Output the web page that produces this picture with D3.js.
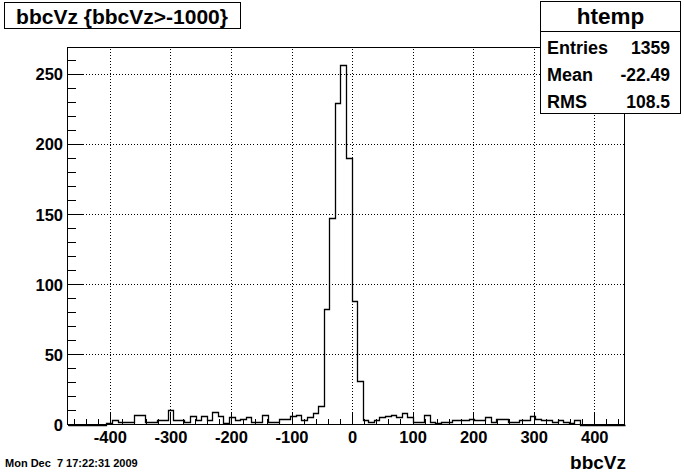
<!DOCTYPE html>
<html><head><meta charset="utf-8">
<script src="https://cdn.jsdelivr.net/npm/d3@7"></script>
<style>
body{margin:0;background:#fff}
text{font-family:"Liberation Sans",Arial,Helvetica,sans-serif;font-weight:bold;fill:#000}
</style>
</head><body>
<svg id="c" width="684" height="472"></svg>
<script>
// ---- data ----
const xMin = -470, xMax = 450, nBins = 100;
const counts = [
  0,0,0,0,0,0,0,1,3,2,
  2,2,7,7,2,2,3,3,10,3,
  3,2,6,3,6,3,9,6,1,5,
  3,4,5,2,2,7,2,2,4,4,
  6,7,3,5,8,13,82,147,229,256,
  190,88,31,3,2,3,5,6,7,5,
  8,5,2,2,7,2,1,2,2,3,
  3,3,4,3,3,5,2,4,4,2,
  2,3,3,6,4,3,3,2,3,2,
  1,3,0,0,0,0,0,0,0,0
];
const xMajorTicks = [-400,-300,-200,-100,0,100,200,300,400];
const xMinorTicks = d3.range(-460, 441, 20);
const yMajorTicks = [0,50,100,150,200,250];
const yMinorTicks = d3.range(0, 261, 10);
const titleText = "bbcVz {bbcVz>-1000}";
const statsName = "htemp";
const statsLabels = ["Entries","Mean","RMS"];
const statsValues = ["1359","-22.49","108.5"];
const xAxisTitle = "bbcVz";
const dateText = "Mon Dec  7 17:22:31 2009";

// ---- layout ----
const fL = 67.5, fR = 624.5, fT = 47.5, fB = 424.5;
const binW = (xMax - xMin) / nBins;
const yTop = d3.max(counts) * 1.05;

const svg = d3.select("#c");
const x = d3.scaleLinear().domain([xMin, xMax]).range([fL, fR]);
const y = d3.scaleLinear().domain([0, yTop]).range([fB, fT]);

svg.append("rect").attr("width",684).attr("height",472).attr("fill","#fff");

// grid
const grid = svg.append("g").attr("stroke","#000").attr("stroke-width",1)
  .attr("stroke-dasharray","1,2").attr("shape-rendering","crispEdges");
grid.selectAll(".gx").data(xMajorTicks).enter().append("line")
  .attr("x1",d=>Math.round(x(d))+0.5).attr("x2",d=>Math.round(x(d))+0.5)
  .attr("y1",fB).attr("y2",fT);
grid.selectAll(".gy").data(yMajorTicks.filter(d=>d>0)).enter().append("line")
  .attr("y1",d=>Math.round(y(d))+0.5).attr("y2",d=>Math.round(y(d))+0.5)
  .attr("x1",fL).attr("x2",fR);

// histogram
const pts = [[xMin,0]];
counts.forEach((c,i)=>{
  const lo = xMin + i*binW, hi = lo + binW;
  pts.push([lo,c]); pts.push([hi,c]);
});
pts.push([xMax,0]);
svg.append("path")
  .attr("d", d3.line().x(d=>Math.round(x(d[0]))+0.5).y(d=>Math.round(y(d[1]))+0.5)(pts))
  .attr("fill","none").attr("stroke","#000").attr("stroke-width",1.3);

// axes (ticks inward)
const gx = svg.append("g").attr("transform",`translate(0,${fB})`);
gx.call(d3.axisBottom(x).tickValues(xMinorTicks).tickSize(-5.7).tickFormat(""));
gx.call(g=>g.select(".domain").remove());
const gx2 = svg.append("g").attr("transform",`translate(0,${fB})`);
gx2.call(d3.axisBottom(x).tickValues(xMajorTicks).tickSize(-11.3).tickFormat(d3.format("d")));
gx2.call(g=>g.select(".domain").remove());
gx2.selectAll("text").attr("dy","0").style("font-size","16.5px");

const gy = svg.append("g").attr("transform",`translate(${fL},0)`);
gy.call(d3.axisLeft(y).tickValues(yMinorTicks).tickSize(-8.4).tickFormat(""));
gy.call(g=>g.select(".domain").remove());
const gy2 = svg.append("g").attr("transform",`translate(${fL},0)`);
gy2.call(d3.axisLeft(y).tickValues(yMajorTicks).tickSize(-16.7).tickFormat(d3.format("d")));
gy2.call(g=>g.select(".domain").remove());
gy2.selectAll("text").attr("x",-4.5).attr("dy","0.36em").style("font-size","16.5px");

svg.selectAll(".tick line").attr("stroke","#000").attr("shape-rendering","crispEdges");
svg.selectAll(".tick text").text(function(){ return this.textContent.replace("\u2212","-"); })
  .attr("fill","#000").style("font-family",'"Liberation Sans",Arial,sans-serif').style("font-weight","bold");
gx2.selectAll("text").attr("y",18.5);

// frame
svg.append("rect").attr("x",fL).attr("y",fT).attr("width",fR-fL).attr("height",fB-fT)
  .attr("fill","none").attr("stroke","#000").attr("stroke-width",1).attr("shape-rendering","crispEdges");

// title box
svg.append("rect").attr("x",4.5).attr("y",2.5).attr("width",236).attr("height",26)
  .attr("fill","#fff").attr("stroke","#000").attr("shape-rendering","crispEdges");
svg.append("text").attr("x",122).attr("y",24).attr("text-anchor","middle")
  .style("font-size","21px").text(titleText);

// stats box
const sb = {x:540.5, y:1.5, w:140, h:111.5, div:31.5};
svg.append("rect").attr("x",sb.x).attr("y",sb.y).attr("width",sb.w).attr("height",sb.h)
  .attr("fill","#fff").attr("stroke","#000").attr("shape-rendering","crispEdges");
svg.append("line").attr("x1",sb.x).attr("x2",sb.x+sb.w).attr("y1",sb.div).attr("y2",sb.div)
  .attr("stroke","#000").attr("shape-rendering","crispEdges");
svg.append("text").attr("x",sb.x+sb.w/2).attr("y",24).attr("text-anchor","middle")
  .style("font-size","22.5px").text(statsName);
const rowH = (sb.y+sb.h - sb.div)/statsLabels.length;
statsLabels.forEach((l,i)=>{
  const by = sb.div + rowH*(i+0.5) + 8.5;
  svg.append("text").attr("x",547).attr("y",by).style("font-size","18px").text(l);
  svg.append("text").attr("x",670).attr("y",by).attr("text-anchor","end").style("font-size","17.5px").text(statsValues[i]);
});

// axis title
svg.append("text").attr("x",626).attr("y",469).attr("text-anchor","end")
  .style("font-size","19px").text(xAxisTitle);
// date
svg.append("text").attr("x",5).attr("y",467).style("font-size","11px")
  .style("white-space","pre").attr("xml:space","preserve").text(dateText);
</script>
</body></html>
